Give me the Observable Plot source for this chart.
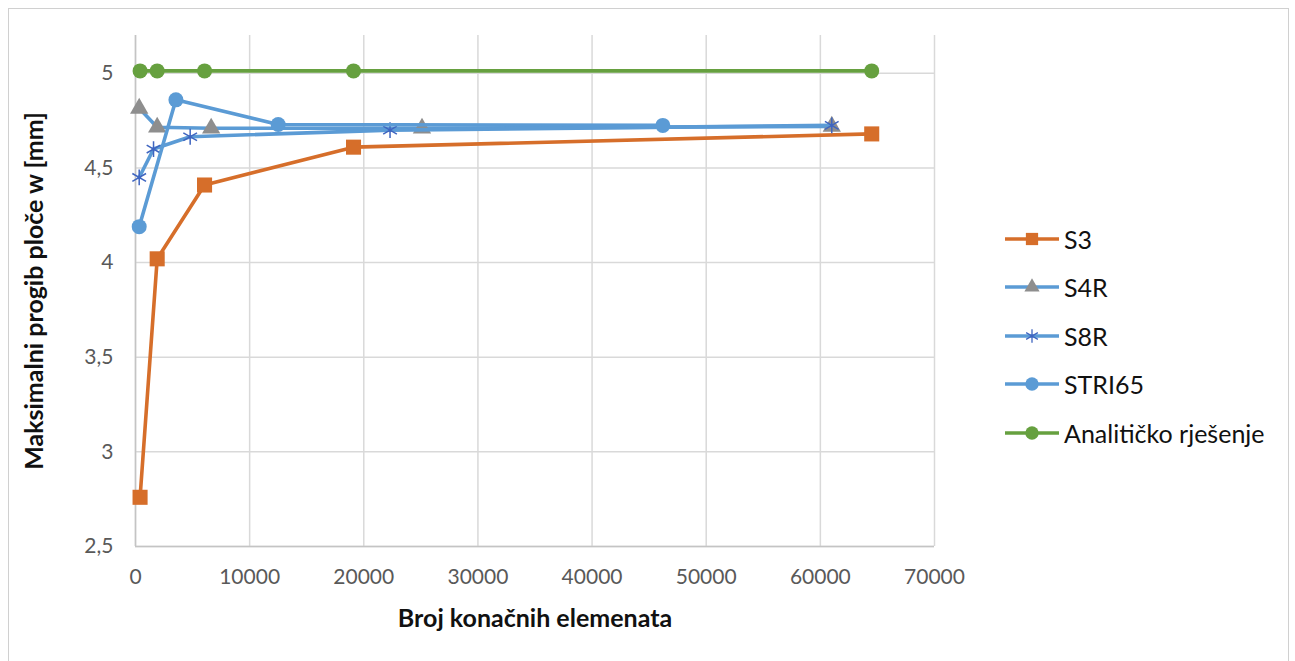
<!DOCTYPE html>
<html>
<head>
<meta charset="utf-8">
<script src="https://cdn.jsdelivr.net/npm/d3@7"></script>
<script src="https://cdn.jsdelivr.net/npm/@observablehq/plot@0.6"></script>
<style>
  html, body { margin: 0; padding: 0; background: #ffffff; }
  body { width: 1295px; height: 661px; position: relative; overflow: hidden; font-family: Lato, "Open Sans", sans-serif; }
  #frame { position: absolute; left: 8px; top: 8px; width: 1281px; height: 680px; border: 1px solid #d0d0d0; box-sizing: border-box; }
  #chart { position: absolute; left: 0; top: 0; }
  .title { position: absolute; font-weight: bold; color: #111; font-size: 25px; white-space: nowrap; }
  #xtitle { left: 535px; top: 617px; transform: translate(-50%, -50%); }
  #ytitle { left: 33px; top: 291px; transform: translate(-50%, -50%) rotate(-90deg); }
  #legend { position: absolute; left: 1005px; top: 0; }
  .lrow { position: absolute; left: 0; height: 30px; display: flex; align-items: center; white-space: nowrap; }
  .lrow span { margin-left: 5px; font-size: 25px; color: #111; }
</style>
</head>
<body>
<div id="frame"></div>
<div id="chart"></div>
<div class="title" id="xtitle">Broj konačnih elemenata</div>
<div class="title" id="ytitle">Maksimalni progib ploče w [mm]</div>
<div id="legend"></div>
<script>
// ---- data ----
const seriesNames = ["S3", "S4R", "S8R", "STRI65", "Analitičko rješenje"];

const s3X = [400, 1900, 6050, 19100, 64500];
const s3Y = [2.76, 4.02, 4.41, 4.61, 4.68];

const s4rX = [324, 1900, 6630, 25100, 61000];
const s4rY = [4.815, 4.715, 4.71, 4.71, 4.72];

const s8rX = [324, 1580, 4790, 22300, 61000];
const s8rY = [4.45, 4.60, 4.665, 4.70, 4.725];

const stri65X = [324, 3540, 12500, 46200];
const stri65Y = [4.19, 4.86, 4.73, 4.725];

const analitX = [400, 1900, 6050, 19100, 64500];
const analitY = [5.013, 5.013, 5.013, 5.013, 5.013];

const xTicks = [0, 10000, 20000, 30000, 40000, 50000, 60000, 70000];
const yTicks = [2.5, 3, 3.5, 4, 4.5, 5];

// ---- styles ----
const orange = "#d66e2a";
const blue = "#5b9bd5";
const gray = "#8e8e8e";
const starBlue = "#3f65c0";
const green = "#66a03f";

const rows = (xs, ys) => xs.map((x, i) => ({x, y: ys[i]}));
const s3 = rows(s3X, s3Y);
const s4r = rows(s4rX, s4rY);
const s8r = rows(s8rX, s8rY);
const stri = rows(stri65X, stri65Y);
const analit = rows(analitX, analitY);

const lw = 3.6;

const chart = Plot.plot({
  width: 1295,
  height: 661,
  marginLeft: 135,
  marginRight: 361,
  marginTop: 35,
  marginBottom: 115,
  style: {fontFamily: "Lato, sans-serif", fontSize: "21px", color: "#595959", background: "transparent", overflow: "visible"},
  x: {domain: [0, 70000]},
  y: {domain: [2.5, 5.2]},
  marks: [
    Plot.gridX(xTicks, {stroke: "#d9d9d9", strokeOpacity: 1, strokeWidth: 1.5}),
    Plot.gridY(yTicks, {stroke: "#d9d9d9", strokeOpacity: 1, strokeWidth: 1.5}),
    Plot.ruleX([0], {stroke: "#c4c4c4", strokeWidth: 1.5}),
    Plot.ruleY([2.5], {stroke: "#c4c4c4", strokeWidth: 1.5}),
    Plot.axisX(xTicks, {tickSize: 0, tickPadding: 23, tickFormat: d => String(d), label: null, fill: "#595959"}),
    Plot.axisY(yTicks, {tickSize: 0, tickPadding: 22, tickFormat: d => String(d).replace(".", ","), label: null, fill: "#595959"}),

    Plot.line(s3, {x: "x", y: "y", stroke: orange, strokeWidth: lw}),
    Plot.dot(s3, {x: "x", y: "y", symbol: "square", r: 8.5, fill: orange}),

    Plot.line(s4r, {x: "x", y: "y", stroke: blue, strokeWidth: lw}),
    Plot.dot(s4r, {x: "x", y: "y", symbol: "triangle", r: 6.8, fill: gray}),

    Plot.line(s8r, {x: "x", y: "y", stroke: blue, strokeWidth: lw}),
    Plot.dot(s8r, {x: "x", y: "y", symbol: "asterisk", r: 7.5, stroke: starBlue, strokeWidth: 1.5}),

    Plot.line(stri, {x: "x", y: "y", stroke: blue, strokeWidth: lw}),
    Plot.dot(stri, {x: "x", y: "y", symbol: "circle", r: 7.5, fill: blue}),

    Plot.line(analit, {x: "x", y: "y", stroke: green, strokeWidth: lw}),
    Plot.dot(analit, {x: "x", y: "y", symbol: "circle", r: 7.5, fill: green})
  ]
});
document.getElementById("chart").appendChild(chart);

// ---- legend ----
const legendDefs = [
  {stroke: orange, symbol: d3.symbolSquare, size: 150, fill: orange, sw: 0},
  {stroke: blue, symbol: d3.symbolTriangle, size: 100, fill: gray, sw: 0},
  {stroke: blue, symbol: d3.symbolAsterisk, size: 130, fill: "none", mstroke: starBlue, sw: 1.3},
  {stroke: blue, symbol: d3.symbolCircle, size: 140, fill: blue, sw: 0},
  {stroke: green, symbol: d3.symbolCircle, size: 140, fill: green, sw: 0}
];
const legend = document.getElementById("legend");
seriesNames.forEach((name, i) => {
  const def = legendDefs[i];
  const row = document.createElement("div");
  row.className = "lrow";
  row.style.top = (239 + i * 48.4 - 15) + "px";
  const path = d3.symbol(def.symbol, def.size)();
  row.innerHTML =
    `<svg width="54" height="30" viewBox="0 0 54 30">` +
    `<line x1="0" x2="54" y1="15" y2="15" stroke="${def.stroke}" stroke-width="3.6"/>` +
    `<path transform="translate(27,15)" d="${path}" fill="${def.fill}" stroke="${def.mstroke || "none"}" stroke-width="${def.sw}"/>` +
    `</svg><span>${name}</span>`;
  legend.appendChild(row);
});
</script>
</body>
</html>
